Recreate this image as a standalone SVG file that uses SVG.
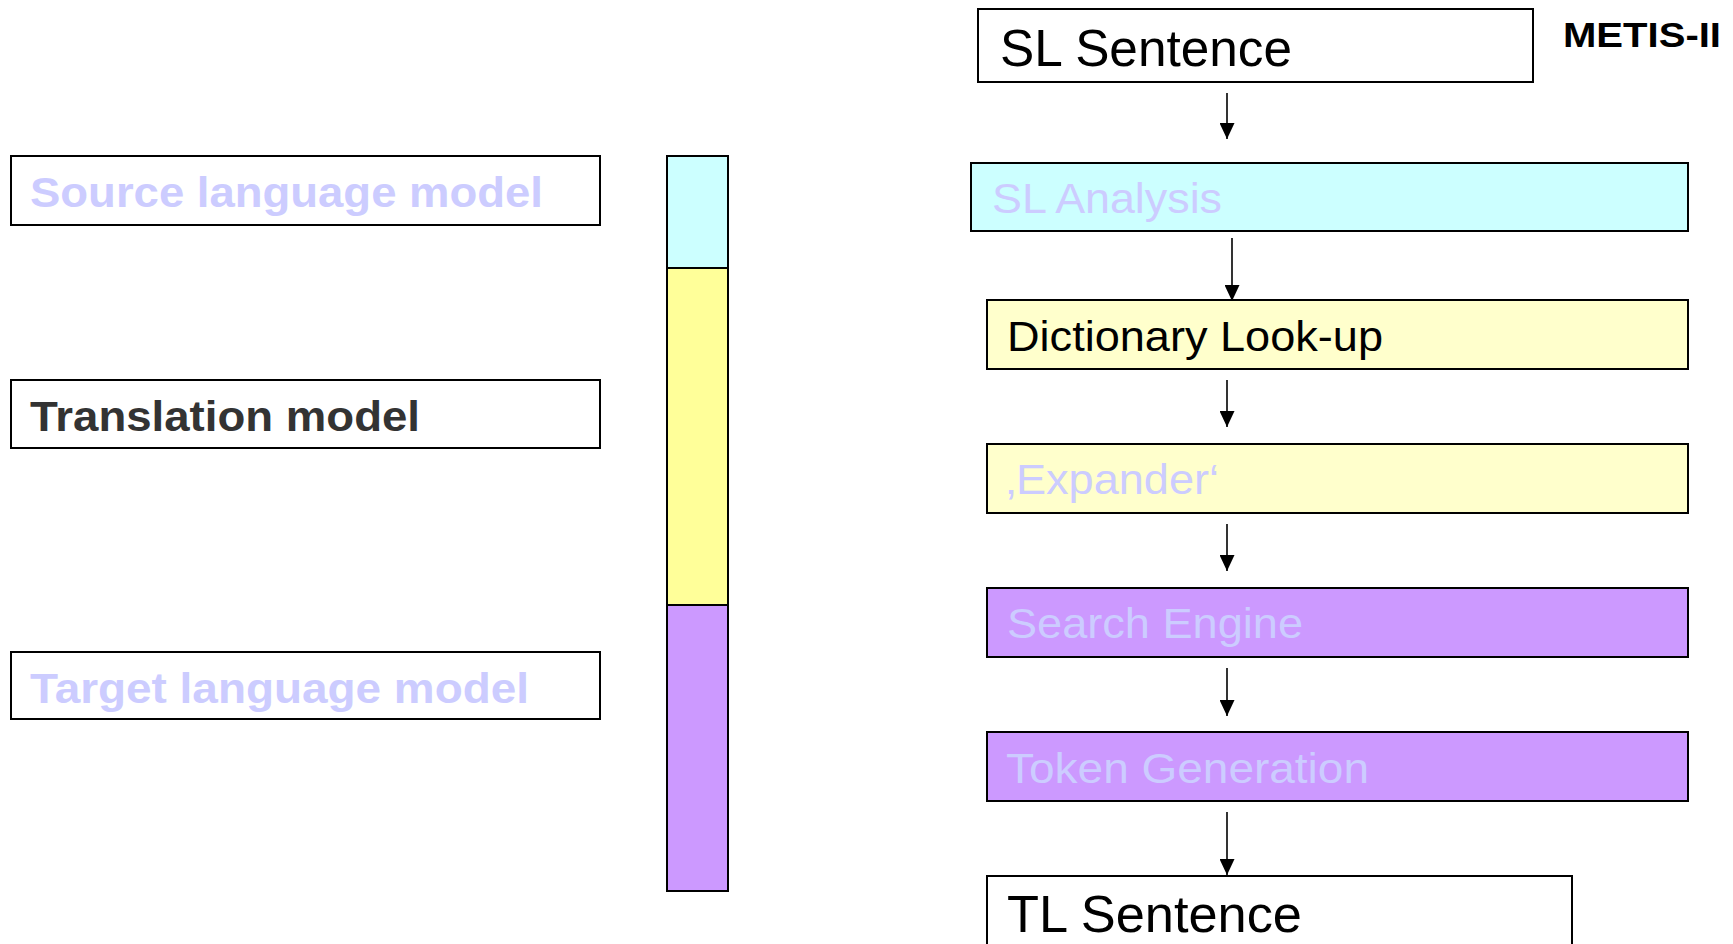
<svg xmlns="http://www.w3.org/2000/svg" width="1733" height="944" viewBox="0 0 1733 944">
  <style>
    .box { stroke: #000; stroke-width: 2; }
    .white { fill: #ffffff; }
    .cyan { fill: #ccffff; }
    .lemon { fill: #ffffcc; }
    .violet { fill: #cc99ff; }
    .barY { fill: #ffff99; }
    .t { font-family: "Liberation Sans", Arial, sans-serif; }
    .tb { font-family: "Liberation Sans", Arial, sans-serif; font-weight: bold; }
    .faint { fill: #ccccff; }
    .ink { fill: #000000; }
    .dark { fill: #333333; }
    .conn { stroke: #000; stroke-width: 1.6; fill: none; marker-end: url(#head); }
  </style>
  <defs>
    <marker id="head" markerUnits="userSpaceOnUse" markerWidth="16" markerHeight="15" refX="16" refY="7.5" orient="auto">
      <path d="M0,0 L16,7.5 L0,15 z" fill="#000"/>
    </marker>
  </defs>

  <rect width="1733" height="944" fill="#ffffff"/>

  <!-- model labels on the left -->
  <g id="source-model">
    <rect class="box white" x="11" y="156" width="589" height="69"/>
    <text class="tb faint" x="30" y="206.5" font-size="42" textLength="513" lengthAdjust="spacingAndGlyphs">Source language model</text>
  </g>
  <g id="translation-model">
    <rect class="box white" x="11" y="380" width="589" height="68"/>
    <text class="tb dark" x="30" y="431" font-size="42" textLength="390" lengthAdjust="spacingAndGlyphs">Translation model</text>
  </g>
  <g id="target-model">
    <rect class="box white" x="11" y="652" width="589" height="67"/>
    <text class="tb faint" x="30" y="703" font-size="42" textLength="499" lengthAdjust="spacingAndGlyphs">Target language model</text>
  </g>

  <!-- colour bar mapping models to stages -->
  <g id="model-bar">
    <rect class="box cyan" x="667" y="156" width="61" height="112"/>
    <rect class="box barY" x="667" y="268" width="61" height="337"/>
    <rect class="box violet" x="667" y="605" width="61" height="286"/>
  </g>

  <!-- title -->
  <g id="title">
    <text class="tb ink" x="1563" y="47" font-size="35" textLength="158" lengthAdjust="spacingAndGlyphs">METIS-II</text>
  </g>

  <!-- pipeline stages -->
  <g id="sl-sentence">
    <rect class="box white" x="978" y="9" width="555" height="73"/>
    <text class="t ink" x="1000" y="65.5" font-size="52" textLength="292" lengthAdjust="spacingAndGlyphs">SL Sentence</text>
  </g>
  <g id="sl-analysis">
    <rect class="box cyan" x="971" y="163" width="717" height="68"/>
    <text class="t faint" x="992" y="213" font-size="42" textLength="230" lengthAdjust="spacingAndGlyphs">SL Analysis</text>
  </g>
  <g id="dictionary-lookup">
    <rect class="box lemon" x="987" y="300" width="701" height="69"/>
    <text class="t ink" x="1007" y="350.5" font-size="43" textLength="376" lengthAdjust="spacingAndGlyphs">Dictionary Look-up</text>
  </g>
  <g id="expander">
    <rect class="box lemon" x="987" y="444" width="701" height="69"/>
    <text class="t faint" x="1006" y="494" font-size="42" textLength="213" lengthAdjust="spacingAndGlyphs">‚Expander‘</text>
  </g>
  <g id="search-engine">
    <rect class="box violet" x="987" y="588" width="701" height="69"/>
    <text class="t faint" x="1007" y="638" font-size="42" textLength="296" lengthAdjust="spacingAndGlyphs">Search Engine</text>
  </g>
  <g id="token-generation">
    <rect class="box violet" x="987" y="732" width="701" height="69"/>
    <text class="t faint" x="1006" y="782.5" font-size="42" textLength="363" lengthAdjust="spacingAndGlyphs">Token Generation</text>
  </g>
  <g id="tl-sentence">
    <rect class="box white" x="987" y="876" width="585" height="90"/>
    <text class="t ink" x="1007" y="932" font-size="52" textLength="295" lengthAdjust="spacingAndGlyphs">TL Sentence</text>
  </g>

  <!-- connectors between stages -->
  <g id="connectors">
    <path class="conn" d="M1227,93 L1227,139"/>
    <path class="conn" d="M1232,238 L1232,301"/>
    <path class="conn" d="M1227,380 L1227,427"/>
    <path class="conn" d="M1227,524 L1227,571"/>
    <path class="conn" d="M1227,668 L1227,716"/>
    <path class="conn" d="M1227,812 L1227,875"/>
  </g>
</svg>
